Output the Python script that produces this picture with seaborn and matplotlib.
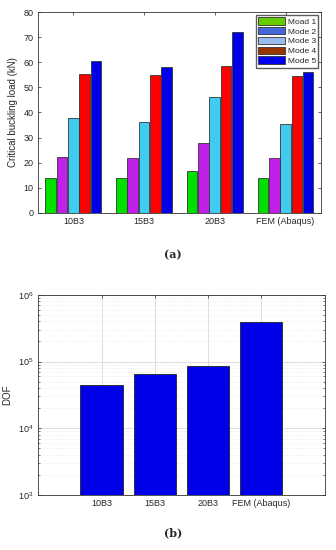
import numpy as np
import pandas as pd
import seaborn as sns
import matplotlib.pyplot as plt
from matplotlib.patches import Patch

# data
models = ["10B3", "15B3", "20B3", "FEM (Abaqus)"]
modes = ["Moad 1", "Mode 2", "Mode 3", "Mode 4", "Mode 5"]
mode1 = [13.9, 13.9, 16.8, 13.7]
mode2 = [22.2, 21.9, 27.8, 21.9]
mode3 = [37.8, 36.1, 46.3, 35.5]
mode4 = [55.3, 54.9, 58.4, 54.5]
mode5 = [60.7, 58.0, 72.0, 56.2]
dof = [44000, 64000, 86000, 390000]

bar_colors = ["#00e000", "#c020e8", "#40ccf0", "#ff0000", "#0000e8"]
legend_colors = ["#66cc00", "#4466dd", "#99bbee", "#993300", "#0000ee"]

sns.set_style("white")
plt.rcParams["font.family"] = ["Liberation Sans", "DejaVu Sans"]

fig = plt.figure(figsize=(3.36, 5.5), dpi=100)
ax1 = fig.add_axes([0.113, 0.613, 0.842, 0.365])
ax2 = fig.add_axes([0.113, 0.1, 0.854, 0.364])

# (a) grouped bars
df = pd.DataFrame({
    "model": models * 5,
    "mode": np.repeat(modes, len(models)),
    "load": mode1 + mode2 + mode3 + mode4 + mode5,
})
sns.barplot(data=df, x="model", y="load", hue="mode", palette=bar_colors,
            width=0.8, gap=0.06, edgecolor="#333333", linewidth=0.6,
            saturation=1, ax=ax1, legend=False)
ax1.set_xlim(-0.5, 3.5)
ax1.set_ylim(0, 80)
ax1.set_yticks(range(0, 81, 10))
ax1.set_xlabel("")
ax1.set_ylabel("Critical buckling load (kN)", fontsize=7, color="#262626")
handles = [Patch(facecolor=c, edgecolor="#333333", linewidth=0.6, label=m)
           for c, m in zip(legend_colors, modes)]
ax1.legend(handles=handles, loc="upper right", fontsize=6, frameon=True,
           fancybox=False, edgecolor="#333333", handlelength=3.2,
           handleheight=1.0, borderpad=0.3, labelspacing=0.15,
           handletextpad=0.3, borderaxespad=0.3)

# (b) DOF on log scale
df2 = pd.DataFrame({"model": models, "dof": dof})
sns.barplot(data=df2, x="model", y="dof", color="#0000e8", width=0.8,
            edgecolor="#222222", linewidth=0.6, saturation=1, ax=ax2)
ax2.set_yscale("log")
ax2.set_ylim(1e3, 1e6)
ax2.set_xlim(-1.2, 4.2)
ax2.set_xlabel("")
ax2.set_ylabel("DOF", fontsize=7, color="#262626")
ax2.grid(True, which="major", color="#d0d0d0", linewidth=0.5)
ax2.grid(True, which="minor", axis="y", color="#dcdcdc", linewidth=0.4,
         linestyle=":")
ax2.set_axisbelow(True)

for ax in (ax1, ax2):
    for s in ax.spines.values():
        s.set_color("#333333")
        s.set_linewidth(0.6)
    ax.tick_params(direction="in", length=2.5, width=0.5, labelsize=6.5,
                   colors="#262626", pad=3)
    ax.tick_params(which="minor", direction="in", length=1.5, width=0.4)
    ax.xaxis.set_ticks_position("both")
    ax.yaxis.set_ticks_position("both")
    ax.tick_params(labelleft=True, labelright=False, labelbottom=True,
                   labeltop=False)

fig.text(0.515, 0.536, "(a)", ha="center", va="center", fontsize=8,
         family="DejaVu Serif", fontweight="bold")
fig.text(0.515, 0.031, "(b)", ha="center", va="center", fontsize=8,
         family="DejaVu Serif", fontweight="bold")

fig.savefig("out.png", dpi=100)
